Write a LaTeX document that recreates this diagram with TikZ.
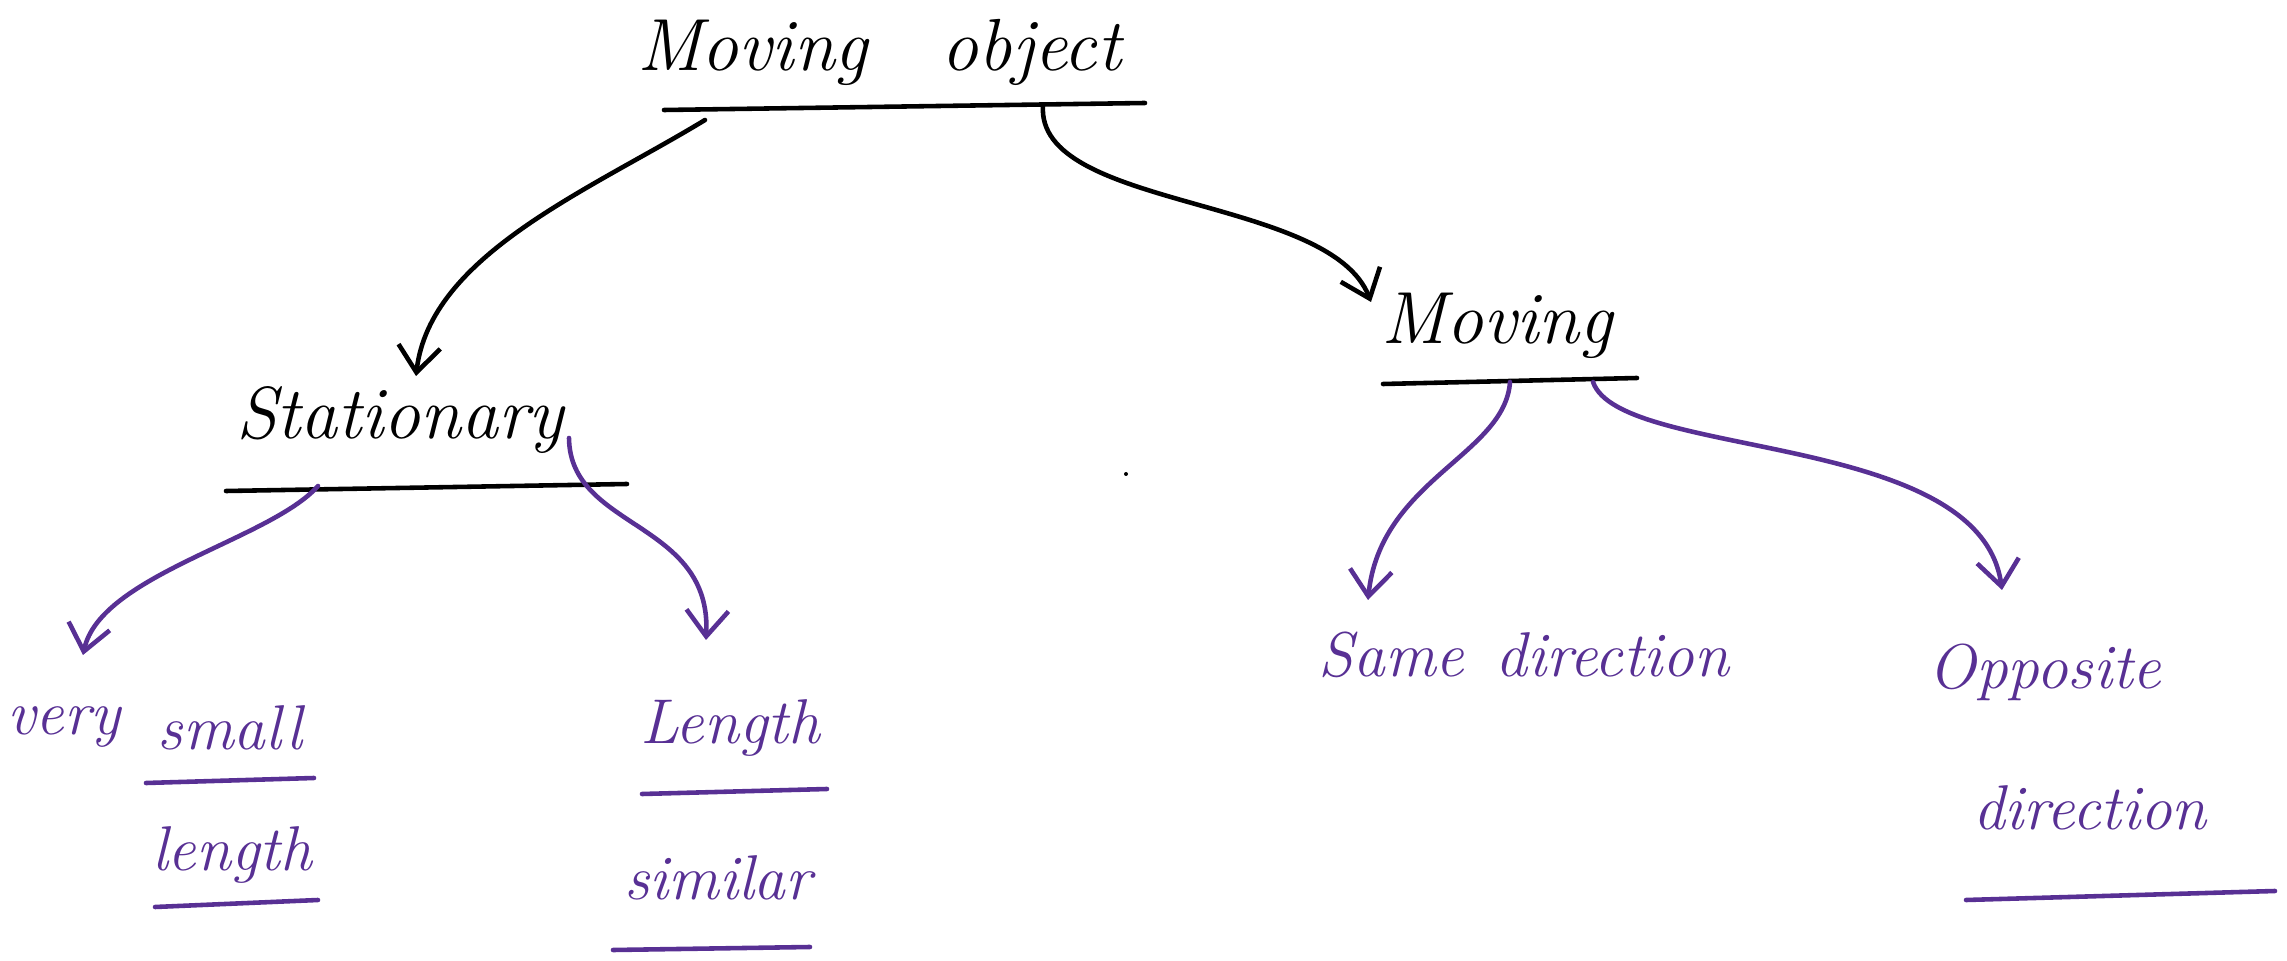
\documentclass[tikz,border=0pt]{standalone}
\usetikzlibrary{arrows.meta}
\definecolor{inkpurple}{RGB}{88,48,148}
\begin{document}
\begin{tikzpicture}  % ------ Moving object tree --------------
      [x={(0.01cm,0cm)},y={(0cm,-0.01cm)},
       ink/.style={line width=1.3pt,line cap=round},
       barb/.style={-{Straight Barb[length=2.6mm,width=4.2mm]}},
       big/.style={font=\fontsize{21}{24}\selectfont\itshape},
       small/.style={font=\fontsize{18}{21}\selectfont\itshape,text=inkpurple}]
    \useasboundingbox (0,0) rectangle (2287,961);

    \node[big] (mobj) at (879,52) {Moving\quad object};
    \node[big] (stat) at (400,420) {Stationary};
    \node[big] (mov)  at (1497,326) {Moving};

    \coordinate (U1) at (664,110);  \coordinate (U2) at (1145,103);
    \coordinate (U3) at (226,491);  \coordinate (U4) at (627,484);
    \coordinate (U5) at (1383,384); \coordinate (U6) at (1637,378);
    \draw[ink] (U1) -- (U2);
    \draw[ink] (U3) -- (U4);
    \draw[ink] (U5) -- (U6);

    \coordinate (B1) at (705,120);  \coordinate (B2) at (416,376);
    \coordinate (B3) at (1043,105); \coordinate (B4) at (1371,302);
    \draw[ink,barb] (B1) .. controls (590,190) and (430,255) .. (B2);
    \draw[ink,barb] (B3) .. controls (1035,210) and (1330,195) .. (B4);

\begin{scope}[inkpurple]
    \node[small] (very)   at (64,727)   {very};
    \node[small] (smll)   at (230,728)  {small};
    \node[small] (lngA)   at (232,855)  {length};
    \node[small] (lngB)   at (730,728)  {Length};
    \node[small] (simi)   at (718,878)  {similar};
    \node[small] (same)   at (1524,655) {Same\enspace direction};
    \node[small] (oppo)   at (2045,672) {Opposite};
    \node[small] (dirB)   at (2090,808) {direction};

    \coordinate (P1) at (146,783);  \coordinate (P2) at (314,778);
    \coordinate (P3) at (155,907);  \coordinate (P4) at (318,900);
    \coordinate (P5) at (642,794);  \coordinate (P6) at (827,789);
    \coordinate (P7) at (613,950);  \coordinate (P8) at (810,947);
    \coordinate (P9) at (1966,900); \coordinate (P10) at (2275,891);
    \draw[ink] (P1) -- (P2);
    \draw[ink] (P3) -- (P4);
    \draw[ink] (P5) -- (P6);
    \draw[ink] (P7) -- (P8);
    \draw[ink] (P9) -- (P10);

    \coordinate (S1) at (318,486);  \coordinate (S2) at (83,655);
    \coordinate (S3) at (569,438);  \coordinate (S4) at (706,640);
    \coordinate (M1) at (1510,382); \coordinate (M2) at (1368,600);
    \coordinate (M3) at (1593,382); \coordinate (M4) at (2002,590);
    \draw[ink,barb] (S1) .. controls (270,540) and (100,575) .. (S2);
    \draw[ink,barb] (S3) .. controls (570,530) and (712,520) .. (S4);
    \draw[ink,barb] (M1) .. controls (1505,455) and (1380,480) .. (M2);
    \draw[ink,barb] (M3) .. controls (1620,460) and (1980,430) .. (M4);
\end{scope}
    \fill (1126,474) circle (2);
\end{tikzpicture}
\end{document}
